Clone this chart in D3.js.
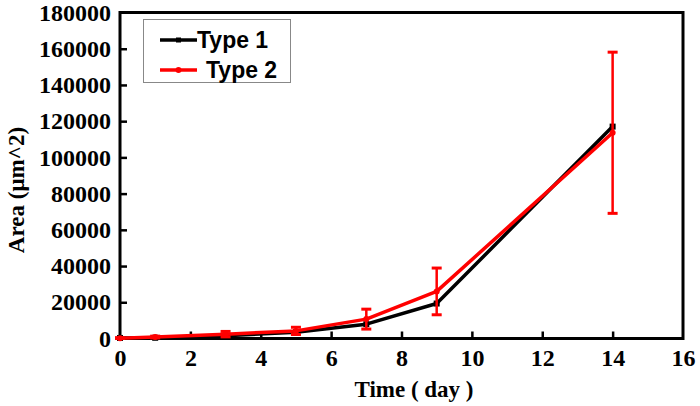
<!DOCTYPE html>
<html><head><meta charset="utf-8">
<script src="https://cdn.jsdelivr.net/npm/d3@7"></script>
<style>body{margin:0;background:#fff}</style>
</head><body>
<script>
const days = [0, 1, 3, 5, 7, 9, 14];
const type1 = [300, 400, 1500, 3500, 7900, 19300, 117000];
const type1Err = [0, 0, 0, 0, 0, 0, 0];
const type2 = [200, 800, 2400, 4200, 10700, 26000, 113600];
const type2Err = [300, 500, 1500, 2000, 5500, 12900, 44500];
const xTicks = [0, 2, 4, 6, 8, 10, 12, 14, 16];
const yTicks = [0, 20000, 40000, 60000, 80000, 100000, 120000, 140000, 160000, 180000];
const seriesNames = ["Type 1", "Type 2"];
const colors = ["#000000", "#ff0000"];

const W = 700, H = 406;
const svg = d3.select("body").append("svg").attr("width", W).attr("height", H);
const x = d3.scaleLinear().domain([0, 16]).range([120, 683]);
const y = d3.scaleLinear().domain([0, 180000]).range([338.5, 12.5]);

const tickFont = "'Liberation Serif','Times New Roman',serif";

const xAxis = svg.append("g").attr("transform", `translate(0,${y(0)})`)
  .call(d3.axisBottom(x).tickValues(xTicks).tickSizeInner(-7).tickSizeOuter(0).tickPadding(14));
const yAxis = svg.append("g").attr("transform", `translate(${x(0)},0)`)
  .call(d3.axisLeft(y).tickValues(yTicks).tickSizeInner(-7).tickSizeOuter(0).tickPadding(9).tickFormat(d3.format("d")));
[xAxis, yAxis].forEach(a => {
  a.select(".domain").remove();
  a.selectAll(".tick line").attr("stroke", "#000").attr("stroke-width", 2.5);
  a.selectAll(".tick text").attr("font-family", tickFont).attr("font-weight", "bold")
    .attr("font-size", 24).attr("fill", "#000");
});
xAxis.selectAll(".tick text").attr("dy", "0.75em").attr("y", 9);
xAxis.selectAll(".tick").filter(d => d === 0 || d === 16).select("line").remove();
yAxis.selectAll(".tick").filter(d => d === 0 || d === 180000).select("line").remove();

svg.append("rect").attr("x", x(0)).attr("y", y(180000)).attr("width", x(16) - x(0))
  .attr("height", y(0) - y(180000)).attr("fill", "none").attr("stroke", "#000").attr("stroke-width", 3);

const allVals = [type1, type2];
const allErr = [type1Err, type2Err];
const line = d3.line();
allVals.forEach((vals, si) => {
  const g = svg.append("g");
  const pts = days.map((d, i) => [x(d), y(vals[i])]);
  g.append("path").attr("d", line(pts)).attr("fill", "none").attr("stroke", colors[si])
    .attr("stroke-width", 3.5).attr("stroke-linejoin", "round");
  days.forEach((d, i) => {
    const cx = x(d);
    if (allErr[si][i] > 0) {
      const top = y(vals[i] + allErr[si][i]), bot = y(Math.max(0, vals[i] - allErr[si][i]));
      g.append("line").attr("x1", cx).attr("x2", cx).attr("y1", top).attr("y2", bot)
        .attr("stroke", colors[si]).attr("stroke-width", 2.5);
      [top, bot].forEach(yy => g.append("line").attr("x1", cx - 5).attr("x2", cx + 5)
        .attr("y1", yy).attr("y2", yy).attr("stroke", colors[si]).attr("stroke-width", 3));
    }
    if (si === 0) g.append("rect").attr("x", cx - 3).attr("y", y(vals[i]) - 3).attr("width", 6).attr("height", 6).attr("fill", colors[si]);
    else g.append("circle").attr("cx", cx).attr("cy", y(vals[i])).attr("r", 3).attr("fill", colors[si]);
  });
});

const lg = svg.append("g");
lg.append("rect").attr("x", 143.5).attr("y", 19.5).attr("width", 147).attr("height", 63)
  .attr("fill", "#fff").attr("stroke", "#888").attr("stroke-width", 1);
seriesNames.forEach((n, i) => {
  const yy = 40 + i * 30;
  lg.append("line").attr("x1", 160).attr("x2", 197).attr("y1", yy).attr("y2", yy)
    .attr("stroke", colors[i]).attr("stroke-width", 3.5);
  if (i === 0) lg.append("rect").attr("x", 176).attr("y", yy - 2.5).attr("width", 5).attr("height", 5).attr("fill", colors[i]);
  else lg.append("circle").attr("cx", 178.5).attr("cy", yy).attr("r", 3).attr("fill", colors[i]);
  lg.append("text").attr("x", i === 0 ? 197 : 206).attr("y", yy + 8).text(n)
    .attr("font-family", "'Liberation Sans',Arial,sans-serif").attr("font-weight", "bold")
    .attr("font-size", 23).attr("fill", "#000");
});

svg.append("text").attr("x", 414).attr("y", 397).attr("text-anchor", "middle")
  .attr("font-family", tickFont).attr("font-weight", "bold").attr("font-size", 23).text("Time ( day )");
svg.append("text").attr("transform", "translate(24,190) rotate(-90)").attr("text-anchor", "middle")
  .attr("font-family", tickFont).attr("font-weight", "bold").attr("font-size", 23).text("Area (μm^2)");
</script>
</body></html>
